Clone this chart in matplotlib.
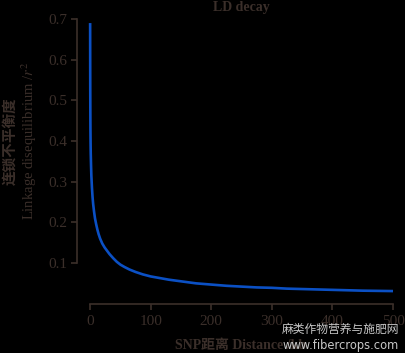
import matplotlib
matplotlib.use("Agg")
import matplotlib.pyplot as plt

# Data (distance in kb, r^2)
distance_kb = [0, 0.1, 0.2, 0.35, 0.5, 0.75, 1, 1.5, 2, 3, 4, 5, 6.5, 8, 10, 12,
               14, 16.5, 20, 24, 27.5, 32, 38, 44, 50, 57, 65, 75, 87, 100, 115,
               130, 150, 175, 200, 225, 250, 275, 300, 325, 350, 375, 400, 425,
               450, 475, 500]
r2_values = [0.69, 0.60, 0.53, 0.47, 0.43, 0.395, 0.37, 0.34, 0.315, 0.285,
             0.262, 0.245, 0.226, 0.21, 0.195, 0.182, 0.171, 0.16, 0.148, 0.138,
             0.131, 0.122, 0.112, 0.103, 0.096, 0.09, 0.084, 0.078, 0.072,
             0.067, 0.063, 0.059, 0.055, 0.050, 0.047, 0.044, 0.042, 0.040,
             0.039, 0.037, 0.036, 0.035, 0.034, 0.033, 0.032, 0.0315, 0.031]
x_ticks = [0, 100, 200, 300, 400, 500]
y_ticks = [0.1, 0.2, 0.3, 0.4, 0.5, 0.6, 0.7]

TXT = '#3b2f2a'
BLUE = '#0b50c4'
SERIF = ['Liberation Serif', 'Noto Sans CJK SC']

plt.rcParams['mathtext.fontset'] = 'stix'
plt.rcParams['font.family'] = SERIF

fig = plt.figure(figsize=(4.06, 3.53), dpi=100, facecolor='black')
ax = fig.add_axes([0.190, 0.1397, 0.968 - 0.190, 0.8065])
ax.set_facecolor('black')

ax.plot(distance_kb, r2_values, color=BLUE, lw=1.9, clip_on=False,
        solid_capstyle='butt', solid_joinstyle='round')

ax.set_xlim(-21.45, 500)
ax.set_ylim(0, 0.7)
ax.set_xticks(x_ticks)
ax.set_yticks(y_ticks)
ax.set_yticklabels([f'{v:.1f}' for v in y_ticks])

for s in ['top', 'right']:
    ax.spines[s].set_visible(False)
ax.spines['left'].set_bounds(0.1, 0.7)
ax.spines['bottom'].set_bounds(0, 500)
for s in ['left', 'bottom']:
    ax.spines[s].set_color(TXT)
    ax.spines[s].set_linewidth(1.2)
ax.tick_params(colors=TXT, width=1.2, length=4, labelsize=11, pad=3)
ax.tick_params(axis='x', pad=4)

fig.text(0.5936, 0.978, 'LD decay', ha='center', va='center', fontsize=10,
         fontweight='bold', color=TXT, family=SERIF)
fig.text(0.5936, 0.022, 'SNP距离 Distance /kb', ha='center', va='center',
         fontsize=10, fontweight='bold', color=TXT, family=SERIF)
fig.text(0.024, 0.600, '连锁不平衡度', rotation=90, ha='center', va='center',
         fontsize=10.5, fontweight='bold', color=TXT,
         family=['Noto Sans CJK SC', 'DejaVu Sans'])
fig.text(0.072, 0.600, r'Linkage disequilibrium /$\it{r}^2$', rotation=90,
         ha='center', va='center', fontsize=10.5, color=TXT, family=SERIF)

# watermark
fig.text(0.983, 0.066, '麻类作物营养与施肥网', ha='right', va='center',
         fontsize=8.5, color='#c8c8c8', family=['Noto Sans CJK SC', 'DejaVu Sans'])
fig.text(0.983, 0.022, 'www.fibercrops.com', ha='right', va='center',
         fontsize=8.3, color='#c8c8c8', family=['DejaVu Sans'])

fig.savefig('out.png', dpi=100, facecolor='black')
